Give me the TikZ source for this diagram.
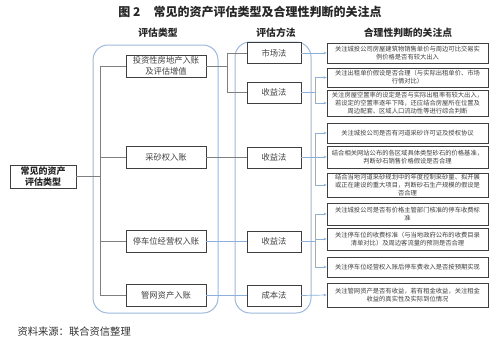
\documentclass[tikz,border=0pt]{standalone}
\usepackage{fontspec}
\setmainfont{Noto Sans CJK SC}
\usetikzlibrary{arrows.meta}
\definecolor{boxc}{HTML}{3F3F3F}
\definecolor{txt}{HTML}{404040}
\definecolor{cont}{HTML}{9DB8D9}
\definecolor{lnk}{HTML}{8DB0DA}
\definecolor{gry}{HTML}{7F7F7F}
\begin{document}
\begin{tikzpicture}[x=1pt,y=-1pt,
 box/.style={draw=boxc, fill=white, line width=0.8pt, rectangle, inner sep=0pt, align=center, text=txt},
 typebox/.style={box, minimum width=80pt, minimum height=22pt, font=\fontsize{8.3}{10.5}\selectfont},
 methbox/.style={box, minimum width=54pt, minimum height=21pt, font=\fontsize{8.3}{10}\selectfont},
 notebox/.style={box, minimum width=161pt, font=\fontsize{6.3}{7.9}\selectfont},
 rootbox/.style={box, minimum width=66pt, minimum height=23pt, text=black!85, font=\fontsize{9}{10.5}\bfseries},
 head/.style={font=\fontsize{9.8}{12}\bfseries, text=black!85},
 glink/.style={draw=gry, line width=0.7pt},
 blink/.style={draw=lnk, line width=0.7pt},
 barrow/.style={blink, -{Stealth[length=3pt,width=2.6pt]}},
 container/.style={draw=cont, line width=1pt, rounded corners=15pt}
]
\useasboundingbox (0,0) rectangle (500,340);

% title and headers
\node[font=\fontsize{12}{14}\bfseries, text=black!85] (title) at (250,12) {图 2\hspace{1.1em}常见的资产评估类型及合理性判断的关注点};
\node[head] (h1) at (158,33) {评估类型};
\node[head] (h2) at (276,33) {评估方法};
\node[head] (h3) at (408,33) {合理性判断的关注点};

% containers
\draw[container] (93,45) rectangle (218,313);
\draw[container] (235,42) rectangle (311,313);

% root
\node[rootbox] (root) at (43,176.5) {常见的资产\\评估类型};

% type boxes
\node[typebox] (t1) at (166,66) {投资性房地产入账\\及评估增值};
\node[typebox] (t2) at (166,157.5) {采砂权入账};
\node[typebox] (t3) at (166,241.5) {停车位经营权入账};
\node[typebox] (t4) at (166,295.5) {管网资产入账};

% method boxes
\node[methbox] (m1) at (274,53) {市场法};
\node[methbox] (m2) at (274,92.5) {收益法};
\node[methbox] (m3) at (274,157.5) {收益法};
\node[methbox] (m4) at (274,241.5) {收益法};
\node[methbox] (m5) at (274,295.5) {成本法};

% note boxes
\node[notebox, minimum height=20pt] (n1) at (407.5,53) {关注城投公司房屋建筑物销售单价与周边可比交易实\\例价格是否有较大出入};
\node[notebox, minimum height=19pt] (n2) at (407.5,77.5) {关注出租单价假设是否合理（与实际出租单价、市场\\行情对比）};
\node[notebox, minimum height=26pt] (n3) at (407.5,103) {关注房屋空置率的设定是否与实际出租率有较大出入，\\若设定的空置率逐年下降，还应结合房屋所在位置及\\周边配套、区域人口流动性等进行综合判断};
\node[notebox, minimum height=20pt] (n4) at (407.5,133) {关注城投公司是否有河道采砂许可证及授权协议};
\node[notebox, minimum height=22pt] (n5) at (407.5,157) {结合相关网站公布的各区域具体类型砂石的价格基准，\\判断砂石销售价格假设是否合理};
\node[notebox, minimum height=24pt] (n6) at (407.5,185) {结合当地河道采砂规划中的年度控制采砂量、拟开展\\或正在建设的重大项目，判断砂石生产规模的假设是\\否合理};
\node[notebox, minimum height=22pt] (n7) at (407.5,214) {关注城投公司是否有价格主管部门核准的停车收费标\\准};
\node[notebox, minimum height=22pt] (n8) at (407.5,239) {关注停车位的收费标准（与当地政府公布的收费目录\\清单对比）及周边客流量的预测是否合理};
\node[notebox, minimum height=20pt] (n9) at (407.5,267) {关注停车位经营权入账后停车费收入是否按预期实现};
\node[notebox, minimum height=24pt] (n10) at (407.5,295) {关注管网资产是否有收益，若有租金收益，关注租金\\收益的真实性及实际到位情况};

% source
\node[anchor=west, font=\fontsize{10.3}{12}\selectfont, text=black!80] (src) at (14,332) {资料来源：联合资信整理};

% left trunk
\coordinate (trT) at (100,66);
\coordinate (trB) at (100,295.5);
\draw[glink] (trT) -- (trB);
\draw[glink] (root.east) -- (root.east -| trT);
\draw[glink] (t1.west -| trT) -- (t1.west);
\draw[glink] (t2.west -| trT) -- (t2.west);
\draw[glink] (t3.west -| trT) -- (t3.west);
\draw[glink] (t4.west -| trT) -- (t4.west);

% type -> method
\coordinate (br1) at (227,0);
\draw[glink] (t1.east) -- (t1.east -| br1);
\draw[glink] (m1.west -| br1) -- (m2.west -| br1);
\draw[glink] (m1.west -| br1) -- (m1.west);
\draw[glink] (m2.west -| br1) -- (m2.west);
\draw[glink] (t2.east) -- (m3.west);
\draw[blink] (t3.east) -- (m4.west);
\draw[blink] (t4.east) -- (m5.west);

% method -> notes
\coordinate (rb) at (315,0);
\draw[barrow] (m1.east) -- (n1.west);
\draw[blink] (m2.east) -- (m2.east -| rb);
\draw[blink] (n2.west -| rb) -- (n3.west -| rb);
\draw[barrow] (n2.west -| rb) -- (n2.west);
\draw[barrow] (n3.west -| rb) -- (n3.west);
\draw[blink] (m3.east) -- (m3.east -| rb);
\draw[blink] (n4.west -| rb) -- (n6.west -| rb);
\draw[barrow] (n4.west -| rb) -- (n4.west);
\draw[barrow] (n5.west -| rb) -- (n5.west);
\draw[barrow] (n6.west -| rb) -- (n6.west);
\draw[blink] (m4.east) -- (m4.east -| rb);
\draw[blink] (n7.west -| rb) -- (n9.west -| rb);
\draw[barrow] (n7.west -| rb) -- (n7.west);
\draw[barrow] (n8.west -| rb) -- (n8.west);
\draw[barrow] (n9.west -| rb) -- (n9.west);
\draw[barrow] (m5.east) -- (n10.west);
\end{tikzpicture}
\end{document}
